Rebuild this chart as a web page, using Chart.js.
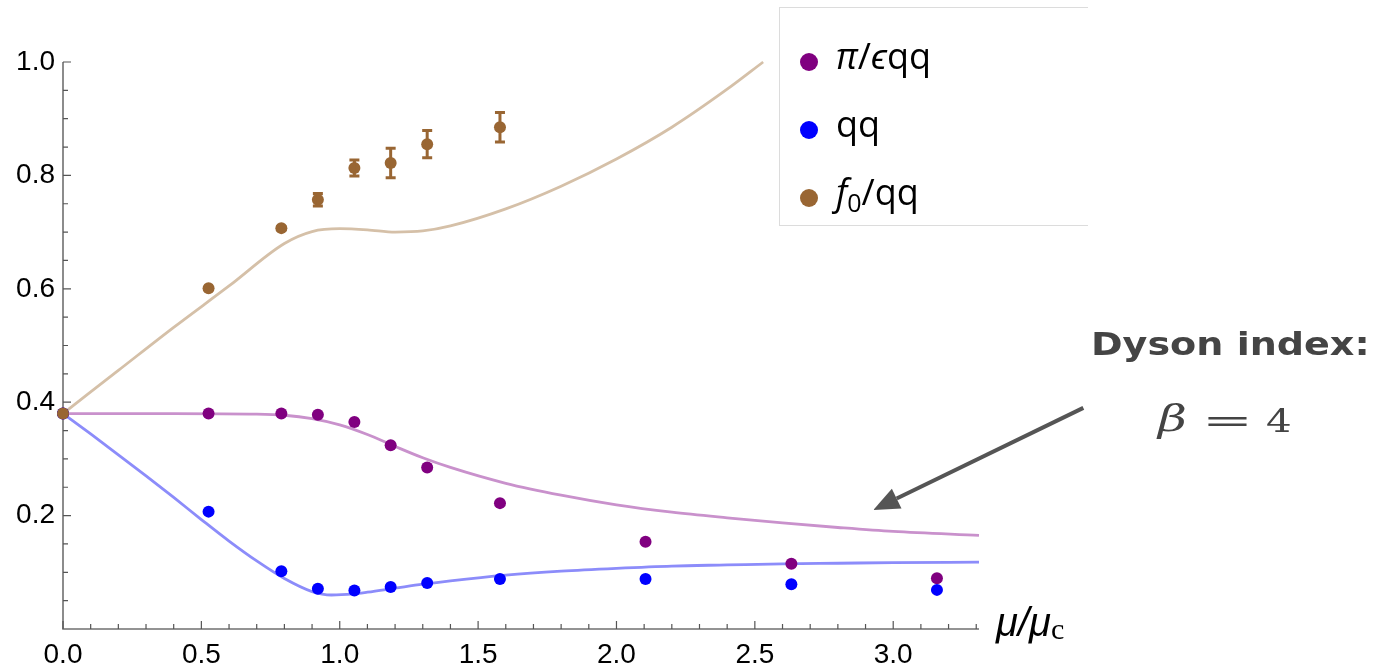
<!DOCTYPE html>
<html>
<head>
<meta charset="utf-8">
<script src="https://cdn.jsdelivr.net/npm/chart.js@4.4.1/dist/chart.umd.min.js"></script>
<style>
  body { margin: 0; background: #fff; }
  #wrap { position: relative; width: 1383px; height: 670px; overflow: hidden; }
  #chart { position: absolute; left: 0; top: 0; }
  #legend {
    position: absolute; left: 779px; top: 7px; width: 309px; height: 219px;
    border: 1px solid #dcdcdc; border-right: none; box-sizing: border-box;
    font-family: "Open Sans", sans-serif; font-size: 36px; color: #000;
  }
  .entry { position: absolute; left: 20px; height: 40px; line-height: 40px; white-space: nowrap; }
  .dot { position: absolute; left: 0; top: 12px; width: 18px; height: 18px; border-radius: 50%; }
  .lbl { position: absolute; left: 36px; top: -5px; }
  .lbl sub { font-size: 25px; vertical-align: -7px; font-style: normal; }
  #xtitle {
    position: absolute; left: 996px; top: 600px; font-family: "Liberation Sans", sans-serif;
    font-size: 40px; font-style: italic; white-space: nowrap;
  }
  #xtitle sub { font-family: "Liberation Serif", serif; font-style: normal; font-size: 30px; vertical-align: -3px; }
  #dyson {
    position: absolute; left: 1091px; top: 325px; font-family: "DejaVu Sans", sans-serif;
    font-weight: bold; font-size: 32px; color: #444; white-space: nowrap;
    transform: scaleX(1.19); transform-origin: left top;
  }
  .beta {
    position: absolute; font-family: "DejaVu Serif", serif; color: #444; line-height: normal;
    transform-origin: left top;
  }
</style>
</head>
<body>
<div id="wrap">
  <canvas id="chart" width="1383" height="670"></canvas>
  <div id="legend"></div>
  <div id="xtitle">μ/μ<sub>c</sub></div>
  <div id="dyson">Dyson index:</div>
  <span class="beta" style="left:1158px;top:397px;font-size:37px;font-style:italic;transform:scaleX(1.35);">β</span>
  <span class="beta" style="left:1202px;top:402px;font-size:32px;transform:scaleX(1.9);">=</span>
  <span class="beta" style="left:1266px;top:403px;font-size:31px;transform:scaleX(1.3);">4</span>
</div>
<script>
// measured points
const dataX = [0, 0.526, 0.789, 0.921, 1.053, 1.184, 1.316, 1.579, 2.105, 2.632, 3.158];
const piEpsQQ = [0.38, 0.38, 0.38, 0.378, 0.365, 0.324, 0.285, 0.222, 0.154, 0.115, 0.0895];
const qq = [0.38, 0.207, 0.102, 0.071, 0.068, 0.074, 0.081, 0.088, 0.088, 0.079, 0.069];
const f0X = [0, 0.526, 0.789, 0.921, 1.053, 1.184, 1.316, 1.579];
const f0QQ = [0.38, 0.601, 0.707, 0.757, 0.813, 0.822, 0.855, 0.885];
const f0Err = [0, 0, 0.003, 0.011, 0.014, 0.026, 0.024, 0.026];

// theory curves
const brownCurveX = [0, 0.2, 0.4, 0.6, 0.8, 0.9, 1.0, 1.1, 1.2, 1.3, 1.4, 1.6, 1.8, 2.0, 2.2, 2.4, 2.53];
const brownCurveY = [0.38, 0.456, 0.532, 0.605, 0.680, 0.701, 0.706, 0.704, 0.700, 0.702, 0.711, 0.741, 0.781, 0.829, 0.885, 0.952, 1.0];
const purpleCurveX = [0, 0.4, 0.7, 0.8, 0.9, 1.0, 1.1, 1.2, 1.3, 1.4, 1.6, 1.8, 2.0, 2.2, 2.4, 2.6, 2.8, 3.0, 3.31];
const purpleCurveY = [0.38, 0.38, 0.379, 0.377, 0.371, 0.36, 0.343, 0.322, 0.302, 0.285, 0.257, 0.236, 0.219, 0.206, 0.196, 0.187, 0.179, 0.172, 0.165];
const blueCurveX = [0, 0.1, 0.2, 0.3, 0.4, 0.5, 0.6, 0.7, 0.8, 0.9, 0.97, 1.05, 1.1, 1.2, 1.3, 1.4, 1.6, 1.8, 2.0, 2.2, 2.4, 2.6, 2.8, 3.0, 3.31];
const blueCurveY = [0.38, 0.344, 0.307, 0.27, 0.232, 0.193, 0.155, 0.12, 0.089, 0.066, 0.060, 0.062, 0.065, 0.072, 0.079, 0.085, 0.095, 0.102, 0.107, 0.111, 0.113, 0.115, 0.116, 0.117, 0.118];

// axes
const xTickLabels = [0, 0.5, 1.0, 1.5, 2.0, 2.5, 3.0];
const xMinorTicks = [0.1,0.2,0.3,0.4,0.6,0.7,0.8,0.9,1.1,1.2,1.3,1.4,1.6,1.7,1.8,1.9,2.1,2.2,2.3,2.4,2.6,2.7,2.8,2.9,3.1,3.2,3.3];
const yTickLabels = [0.2, 0.4, 0.6, 0.8, 1.0];
const yMinorTicks = [0.05,0.1,0.15,0.25,0.3,0.35,0.45,0.5,0.55,0.65,0.7,0.75,0.85,0.9,0.95];

const seriesNames = ['<i>π</i>/<i>ϵ</i>qq', 'qq', '<i>f</i><sub>0</sub>/qq'];
const seriesColors = ['#800080', '#0000ff', '#996633'];
const curveColors = ['#c991cc', '#8c8cfa', '#d5c0a8'];

// arrow annotation (data coords)
const arrowTail = { x: 3.687, y: 0.390 };
const arrowTip = { x: 2.928, y: 0.210 };

const pts = (xs, ys) => xs.map((x, i) => ({ x: x, y: ys[i] }));

const legendEl = document.getElementById('legend');
seriesNames.forEach((name, i) => {
  const e = document.createElement('div');
  e.className = 'entry';
  e.style.top = (33 + i * 68) + 'px';
  e.innerHTML = '<span class="dot" style="background:' + seriesColors[i] + '"></span><span class="lbl">' + name + '</span>';
  legendEl.appendChild(e);
});

const axesPlugin = {
  id: 'axesPlugin',
  beforeDatasetsDraw(chart) {
    const ctx = chart.ctx;
    const xs = chart.scales.x, ys = chart.scales.y;
    const a = chart.chartArea;
    ctx.save();
    ctx.strokeStyle = '#707070';
    ctx.lineWidth = 1.6;
    ctx.beginPath();
    ctx.moveTo(a.left, a.top);
    ctx.lineTo(a.left, a.bottom);
    ctx.lineTo(a.right, a.bottom);
    ctx.stroke();
    ctx.strokeStyle = '#555';
    ctx.lineWidth = 1.2;
    ctx.beginPath();
    xTickLabels.forEach(v => { const p = xs.getPixelForValue(v); ctx.moveTo(p, a.bottom); ctx.lineTo(p, a.bottom - 8); });
    xMinorTicks.forEach(v => { const p = xs.getPixelForValue(v); ctx.moveTo(p, a.bottom); ctx.lineTo(p, a.bottom - 5); });
    yTickLabels.forEach(v => { const p = ys.getPixelForValue(v); ctx.moveTo(a.left, p); ctx.lineTo(a.left + 8, p); });
    yMinorTicks.forEach(v => { const p = ys.getPixelForValue(v); ctx.moveTo(a.left, p); ctx.lineTo(a.left + 5, p); });
    ctx.stroke();
    ctx.restore();
  },
  afterDatasetsDraw(chart) {
    const ctx = chart.ctx;
    const xs = chart.scales.x, ys = chart.scales.y;
    ctx.save();
    // error bars
    ctx.strokeStyle = seriesColors[2];
    ctx.lineWidth = 3;
    f0X.forEach((x, i) => {
      if (!f0Err[i]) return;
      const px = xs.getPixelForValue(x);
      const top = ys.getPixelForValue(f0QQ[i] + f0Err[i]);
      const bot = ys.getPixelForValue(f0QQ[i] - f0Err[i]);
      ctx.beginPath();
      ctx.moveTo(px, top); ctx.lineTo(px, bot);
      ctx.moveTo(px - 5, top); ctx.lineTo(px + 5, top);
      ctx.moveTo(px - 5, bot); ctx.lineTo(px + 5, bot);
      ctx.stroke();
    });
    // arrow
    const tx = xs.getPixelForValue(arrowTail.x), ty = ys.getPixelForValue(arrowTail.y);
    const hx = xs.getPixelForValue(arrowTip.x), hy = ys.getPixelForValue(arrowTip.y);
    const ang = Math.atan2(hy - ty, hx - tx);
    const headLen = 26, headW = 11;
    const bx = hx - headLen * Math.cos(ang), by = hy - headLen * Math.sin(ang);
    ctx.strokeStyle = '#555';
    ctx.fillStyle = '#555';
    ctx.lineWidth = 4;
    ctx.beginPath();
    ctx.moveTo(tx, ty); ctx.lineTo(bx, by);
    ctx.stroke();
    ctx.beginPath();
    ctx.moveTo(hx, hy);
    ctx.lineTo(bx + headW * Math.sin(ang), by - headW * Math.cos(ang));
    ctx.lineTo(bx - headW * Math.sin(ang), by + headW * Math.cos(ang));
    ctx.closePath();
    ctx.fill();
    ctx.restore();
  }
};

const curve = (xs, ys, color, order) => ({
  type: 'line', data: pts(xs, ys), borderColor: color, borderWidth: 2.8,
  pointRadius: 0, cubicInterpolationMode: 'monotone', fill: false, order: order, clip: false
});
const scatter = (xs, ys, color, order) => ({
  type: 'line', data: pts(xs, ys), showLine: false, pointRadius: 6, pointHoverRadius: 6,
  pointBackgroundColor: color, pointBorderWidth: 0, borderColor: color, order: order, clip: false
});

const tickFont = { family: 'Liberation Sans', size: 28 };

new Chart(document.getElementById('chart'), {
  type: 'line',
  data: {
    datasets: [
      curve(brownCurveX, brownCurveY, curveColors[2], 6),
      curve(purpleCurveX, purpleCurveY, curveColors[0], 5),
      curve(blueCurveX, blueCurveY, curveColors[1], 4),
      scatter(dataX, piEpsQQ, seriesColors[0], 3),
      scatter(dataX, qq, seriesColors[1], 2),
      scatter(f0X, f0QQ, seriesColors[2], 1)
    ]
  },
  options: {
    responsive: false,
    animation: false,
    events: [],
    layout: { padding: { top: 62, right: 404, left: 0, bottom: 0 } },
    plugins: { legend: { display: false }, tooltip: { enabled: false } },
    scales: {
      x: {
        type: 'linear', min: 0, max: 3.31,
        grid: { display: false, drawTicks: false },
        border: { display: false },
        afterBuildTicks: s => { s.ticks = xTickLabels.map(v => ({ value: v })); },
        afterFit: s => { s.height = 41; },
        ticks: { font: tickFont, color: '#000', padding: 9, maxRotation: 0, callback: v => v.toFixed(1) }
      },
      y: {
        type: 'linear', min: 0, max: 1.0,
        grid: { display: false, drawTicks: false },
        border: { display: false },
        afterBuildTicks: s => { s.ticks = yTickLabels.map(v => ({ value: v })); },
        afterFit: s => { s.width = 63; },
        ticks: { font: tickFont, color: '#000', padding: 8, callback: v => v.toFixed(1) }
      }
    }
  },
  plugins: [axesPlugin]
});
</script>
</body>
</html>
